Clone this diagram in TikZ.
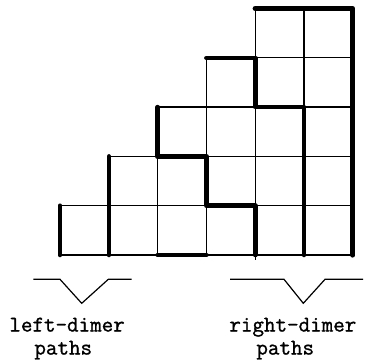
\documentclass[tikz,border=0pt]{standalone}
\usepackage{fontspec}
\setmonofont{Latin Modern Mono}[FakeBold=1.2]
\begin{document}
\begin{tikzpicture}[x=0.5pt,y=-0.5pt,
  gridline/.style={line width=0.65pt},
  dimer/.style={line width=2.3pt, line cap=round, line join=round},
  brace/.style={line width=0.6pt},
  lbl/.style={font=\ttfamily\fontsize{11.2}{13}\selectfont, inner sep=0pt, anchor=base west}]
\useasboundingbox (0,0) rectangle (367,359);
\begin{scope}[shift={(60,255)}, x=24.4pt, y=24.65pt]
  % thin grid
  \draw[gridline] (0,0)--(6,0) (0,1)--(6,1) (1,2)--(6,2) (2,3)--(6,3) (3,4)--(6,4) (4,5)--(6,5);
  \draw[gridline] (0,0)--(0,1) (1,0)--(1,2) (2,0)--(2,3) (3,0)--(3,4) (4,-0.1)--(4,5) (5,0)--(5,5) (6,0)--(6,5);
  % dimer paths
  \draw[dimer] (0,0)--(0,1);
  \draw[dimer] (1,0)--(1,2);
  \draw[dimer] (2,0)--(3,0);
  \draw[dimer] (2,3)--(2,2)--(3,2)--(3,1)--(4,1)--(4,0);
  \draw[dimer] (3,4)--(4,4)--(4,3)--(5,3)--(5,0);
  \draw[dimer, line width=2.6pt] (4,5)--(6,5)--(6,0);
\end{scope}
% brackets
\draw[brace] (33.3,279.3)--(60,279.3)--(81.7,303.3)--(108.3,279.3)--(131.7,279.3);
\draw[brace] (230,279.3)--(284,279.3)--(303.3,303.3)--(325,279.3)--(363,279.3);
% labels
\node[lbl] (l1) at (9,331.5) {left-dimer};
\node[lbl] (l2) at (34,354.5) {paths};
\node[lbl] (r1) at (229,331.5) {right-dimer};
\node[lbl] (r2) at (256,354.5) {paths};
\end{tikzpicture}
\end{document}
